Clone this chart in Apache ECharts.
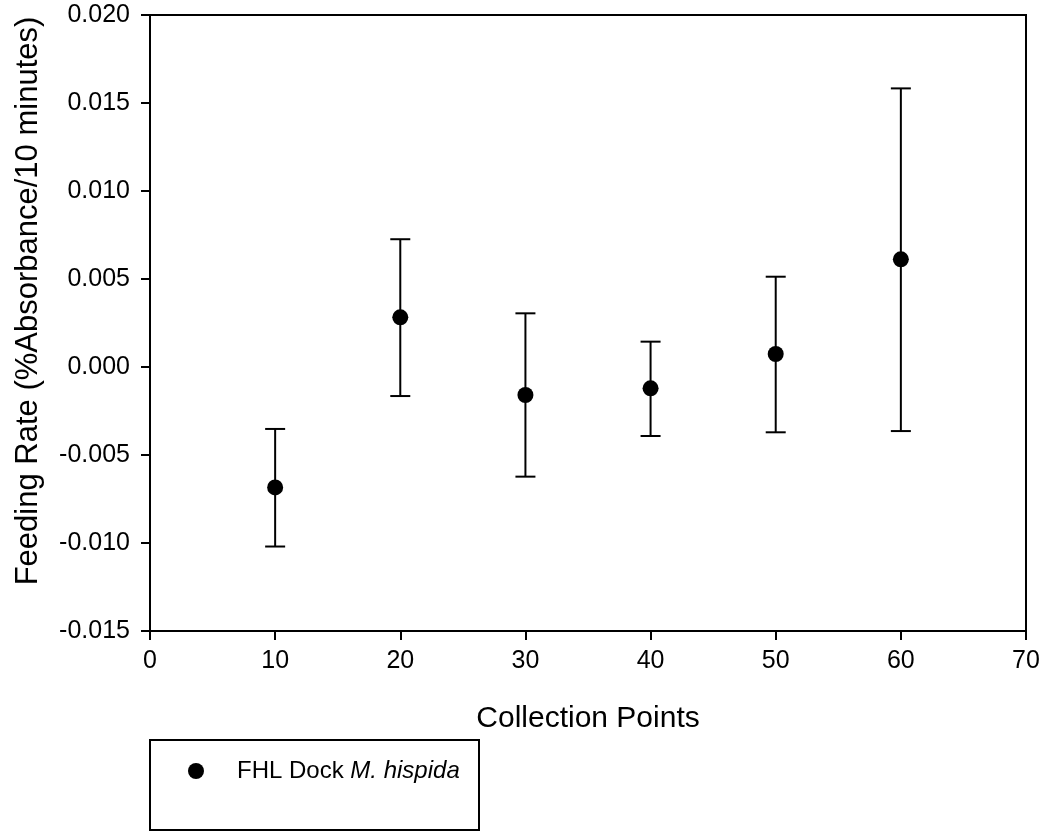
<!DOCTYPE html>
<html>
<head>
<meta charset="utf-8">
<script src="https://cdn.jsdelivr.net/npm/echarts@6/dist/echarts.min.js"></script>
<style>
html,body{margin:0;padding:0;background:#fff;}
#chart{width:1046px;height:833px;}
</style>
</head>
<body>
<div id="chart"></div>
<script>
// Data
var collectionPoints = [10, 20, 30, 40, 50, 60];
var feedingMean = [-0.00684, 0.00282, -0.00159, -0.00121, 0.00074, 0.00612];
var errorHigh   = [-0.00352, 0.00726, 0.00305, 0.00144, 0.00513, 0.01583];
var errorLow    = [-0.01020, -0.00165, -0.00623, -0.00392, -0.00371, -0.00364];
var seriesName = 'FHL Dock M. hispida';
var xTitle = 'Collection Points';
var yTitle = 'Feeding Rate (%Absorbance/10 minutes)';

var font = '"Liberation Sans", Arial, sans-serif';

var pointData = collectionPoints.map(function (x, i) { return [x, feedingMean[i]]; });
var errData = collectionPoints.map(function (x, i) { return [x, errorLow[i], errorHigh[i]]; });

var chart = echarts.init(document.getElementById('chart'), null, {renderer: 'canvas'});
chart.setOption({
  backgroundColor: '#ffffff',
  animation: false,
  textStyle: {fontFamily: font, color: '#000'},
  grid: {
    left: 150, right: 20, top: 15, bottom: 202,
    show: true, borderColor: '#000', borderWidth: 2, backgroundColor: 'transparent'
  },
  xAxis: {
    type: 'value', min: 0, max: 70, interval: 10,
    name: xTitle, nameLocation: 'middle', nameGap: 73,
    nameTextStyle: {fontSize: 30, color: '#000', fontFamily: font},
    axisLine: {show: true, onZero: false, lineStyle: {color: '#000', width: 2}},
    axisTick: {show: true, inside: false, length: 9, lineStyle: {color: '#000', width: 2}},
    axisLabel: {fontSize: 25, color: '#000', margin: 18, fontFamily: font},
    splitLine: {show: false}
  },
  yAxis: {
    type: 'value', min: -0.015, max: 0.020, interval: 0.005,
    name: yTitle, nameLocation: 'middle', nameGap: 106, nameRotate: 90,
    nameTextStyle: {fontSize: 31, color: '#000', fontFamily: font, padding: [0, 0, 0, 44]},
    axisLine: {show: true, onZero: false, lineStyle: {color: '#000', width: 2}},
    axisTick: {show: true, inside: false, length: 9, lineStyle: {color: '#000', width: 2}},
    axisLabel: {
      fontSize: 25, color: '#000', margin: 20, fontFamily: font,
      formatter: function (v) { return v.toFixed(3); }
    },
    splitLine: {show: false}
  },
  legend: {
    left: 188, top: 759,
    padding: 0,
    itemWidth: 16, itemHeight: 16,
    icon: 'circle',
    data: [seriesName],
    itemStyle: {color: '#000', opacity: 1},
    formatter: function () { return '{a|FHL Dock }{b|M. hispida}'; },
    textStyle: {
      fontFamily: font, fontSize: 24, color: '#000',
      rich: {
        a: {fontFamily: font, fontSize: 24, color: '#000', padding: [0, 0, 0, 28]},
        b: {fontFamily: font, fontSize: 24, color: '#000', fontStyle: 'italic'}
      }
    }
  },
  graphic: [{
    type: 'rect',
    shape: {x: 150, y: 740, width: 329, height: 90},
    style: {fill: 'none', stroke: '#000', lineWidth: 2},
    silent: true, z: 1
  }],
  series: [
    {
      type: 'custom',
      name: 'errorbars',
      data: errData,
      encode: {x: 0, y: [1, 2]},
      renderItem: function (params, api) {
        var x = api.value(0);
        var lo = api.coord([x, api.value(1)]);
        var hi = api.coord([x, api.value(2)]);
        var half = 10;
        var st = {stroke: '#000', lineWidth: 2, fill: 'none'};
        return {
          type: 'group',
          children: [
            {type: 'line', shape: {x1: lo[0], y1: lo[1], x2: hi[0], y2: hi[1]}, style: st},
            {type: 'line', shape: {x1: lo[0] - half, y1: lo[1], x2: lo[0] + half, y2: lo[1]}, style: st},
            {type: 'line', shape: {x1: hi[0] - half, y1: hi[1], x2: hi[0] + half, y2: hi[1]}, style: st}
          ]
        };
      },
      z: 2
    },
    {
      type: 'scatter',
      name: seriesName,
      data: pointData,
      symbol: 'circle',
      symbolSize: 16,
      itemStyle: {color: '#000', opacity: 1},
      z: 3
    }
  ]
});
</script>
</body>
</html>
